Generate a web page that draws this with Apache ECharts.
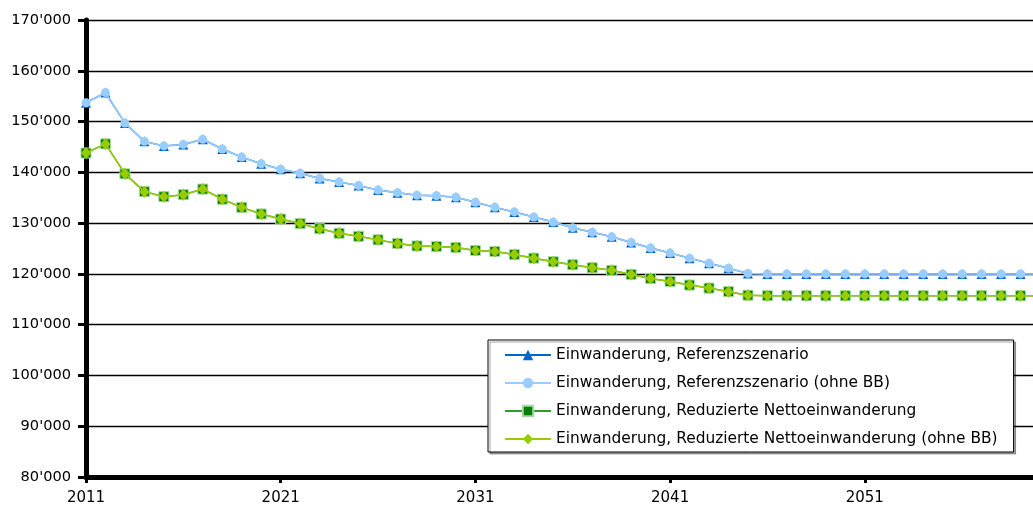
<!DOCTYPE html>
<html><head><meta charset="utf-8">
<script src="https://cdn.jsdelivr.net/npm/echarts@6/dist/echarts.min.js"></script>
<style>html,body{margin:0;padding:0;background:#fff}#c{width:1033px;height:518px}</style>
</head><body><div id="c"></div>
<script>
const years = [2011,2012,2013,2014,2015,2016,2017,2018,2019,2020,2021,2022,2023,2024,2025,2026,2027,2028,2029,2030,2031,2032,2033,2034,2035,2036,2037,2038,2039,2040,2041,2042,2043,2044,2045,2046,2047,2048,2049,2050,2051,2052,2053,2054,2055,2056,2057,2058,2059,2060];
const referenz = [153700,155700,149700,146100,145200,145500,146500,144600,143000,141700,140600,139800,138800,138100,137400,136500,136000,135500,135400,135100,134100,133100,132200,131200,130200,129100,128200,127300,126200,125100,124100,123100,122100,121100,120100,120000,120000,120000,120000,120000,120000,120000,120000,120000,120000,120000,120000,120000,120000,120000];
const referenzOhneBB = [153700,155700,149700,146100,145200,145500,146500,144600,143000,141700,140600,139800,138800,138100,137400,136500,136000,135500,135400,135100,134100,133100,132200,131200,130200,129100,128200,127300,126200,125100,124100,123100,122100,121100,120100,120000,120000,120000,120000,120000,120000,120000,120000,120000,120000,120000,120000,120000,120000,120000];
const reduziert = [143800,145600,139700,136200,135200,135600,136700,134700,133100,131800,130800,129900,128900,128000,127400,126700,126000,125500,125400,125200,124600,124400,123800,123100,122400,121800,121200,120700,119900,119100,118500,117800,117200,116500,115800,115700,115700,115700,115700,115700,115700,115700,115700,115700,115700,115700,115700,115700,115700,115700];
const reduziertOhneBB = [143800,145600,139700,136200,135200,135600,136700,134700,133100,131800,130800,129900,128900,128000,127400,126700,126000,125500,125400,125200,124600,124400,123800,123100,122400,121800,121200,120700,119900,119100,118500,117800,117200,116500,115800,115700,115700,115700,115700,115700,115700,115700,115700,115700,115700,115700,115700,115700,115700,115700];
const seriesNames = ['Einwanderung, Referenzszenario','Einwanderung, Referenzszenario (ohne BB)','Einwanderung, Reduzierte Nettoeinwanderung','Einwanderung, Reduzierte Nettoeinwanderung (ohne BB)'];

const pairs = arr => years.map((y,i)=>[y,arr[i]]);
const FONT = 'DejaVu Sans';
const chart = echarts.init(document.getElementById('c'), null, {renderer:'canvas'});
chart.setOption({
  animation:false,
  backgroundColor:'#fff',
  grid:{left:86,right:0,top:20,bottom:41,containLabel:false},
  xAxis:{
    type:'value', min:2011, max:2059.64, interval:10,
    axisLine:{show:true,onZero:false,lineStyle:{color:'#000',width:5}},
    axisTick:{show:true,length:6,lineStyle:{color:'#000',width:3}},
    axisLabel:{color:'#000',fontFamily:FONT,fontSize:15,margin:14,showMaxLabel:false,formatter:v=>String(v)},
    splitLine:{show:false}
  },
  yAxis:{
    type:'value', min:80000, max:170000, interval:10000,
    axisLine:{show:true,onZero:false,lineStyle:{color:'#000',width:5}},
    axisTick:{show:true,length:8,lineStyle:{color:'#000',width:3}},
    axisLabel:{color:'#000',fontFamily:FONT,fontSize:14.6,margin:15,
      formatter:v=>String(v).replace(/\B(?=(\d{3})+(?!\d))/g,"'")},
    splitLine:{show:true,lineStyle:{color:'#000',width:1.3}}
  },
  legend:{
    orient:'vertical', left:488, top:340,
    padding:[6,16,4,16], itemGap:10, itemWidth:46, itemHeight:13,
    backgroundColor:'#fff', borderColor:'#000', borderWidth:1,
    shadowColor:'rgba(0,0,0,0.35)', shadowOffsetX:2, shadowOffsetY:2, shadowBlur:0,
    textStyle:{color:'#000',fontFamily:FONT,fontSize:15.4,lineHeight:18,padding:[0,0,0,0]},
    data:seriesNames
  },
  series:[
    {name:seriesNames[0],type:'line',data:pairs(referenz),symbol:'triangle',symbolSize:10,
     lineStyle:{color:'#0066cc',width:1.5},itemStyle:{color:'#0066cc'},z:3},
    {name:seriesNames[1],type:'line',data:pairs(referenzOhneBB),symbol:'circle',symbolSize:9,
     lineStyle:{color:'#99ccff',width:1.5},itemStyle:{color:'#99ccff'},z:4},
    {name:seriesNames[2],type:'line',data:pairs(reduziert),symbol:'rect',symbolSize:10,
     lineStyle:{color:'#339933',width:1.5},itemStyle:{color:'#008000',borderColor:'#aad8aa',borderWidth:1},z:3},
    {name:seriesNames[3],type:'line',data:pairs(reduziertOhneBB),symbol:'diamond',symbolSize:[10,12],
     lineStyle:{color:'#99cc00',width:1.5},itemStyle:{color:'#99cc00'},z:4}
  ]
});
</script></body></html>
